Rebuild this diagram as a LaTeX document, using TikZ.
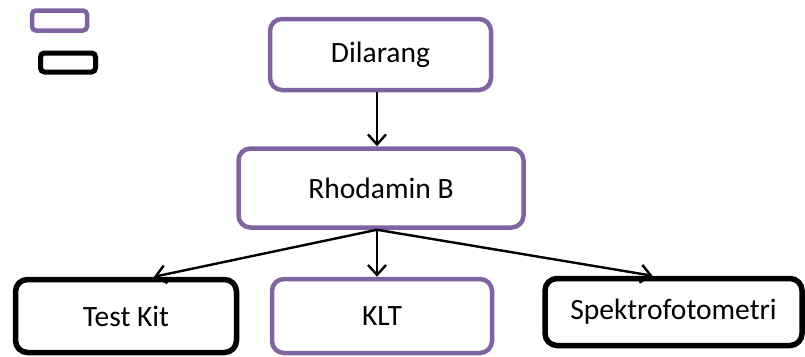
\documentclass[tikz,border=0pt]{standalone}
\usepackage{fontspec}
\setmainfont{Carlito}
\usetikzlibrary{arrows.meta,calc}
\definecolor{pur}{RGB}{128,100,162}
\begin{document}
\begin{tikzpicture}[x=1pt,y=-1pt,
  pbox/.style={draw=pur,line width=4.5pt,rounded corners=12pt,fill=white,align=center,inner sep=0pt,font=\fontsize{29.5}{33}\selectfont},
  kbox/.style={draw=black,line width=5.5pt,rounded corners=12pt,fill=white,align=center,inner sep=0pt,font=\fontsize{29.5}{33}\selectfont},
  arr/.style={line width=2.4pt,-{Straight Barb[length=10pt,width=18pt,line width=2.4pt]}}]
\useasboundingbox (0,0) rectangle (805,356);
% legend
\node[draw=pur,line width=4.5pt,rounded corners=4pt,minimum width=55pt,minimum height=20pt,inner sep=0pt] (lg1) at (59.5,20.5) {};
\node[draw=black,line width=5pt,rounded corners=4pt,minimum width=55pt,minimum height=19pt,inner sep=0pt] (lg2) at (68,62.5) {};
% boxes
\node[pbox,minimum width=221pt,minimum height=71pt] (dil) at (380.5,54.5) {Dilarang};
\node[pbox,minimum width=285pt,minimum height=79pt] (rho) at (381,188) {Rhodamin B};
\node[kbox,minimum width=221pt,minimum height=73pt] (tk) at (126,316) {Test Kit};
\node[pbox,minimum width=220pt,minimum height=74pt] (klt) at (382,316) {KLT};
\node[kbox,minimum width=257pt,minimum height=67pt] (sp) at (673.5,312) {Spektrofotometri};
% connectors
\draw[arr] (dil.south -| 377,0) -- (rho.north -| 377,0);
\draw[arr] (rho.south -| 377,0) -- ([xshift=28pt]tk.north);
\draw[arr] (rho.south -| 377,0) -- (klt.north -| 377,0);
\draw[arr] (rho.south -| 377,0) -- ([xshift=-21pt]sp.north);
\end{tikzpicture}
\end{document}
